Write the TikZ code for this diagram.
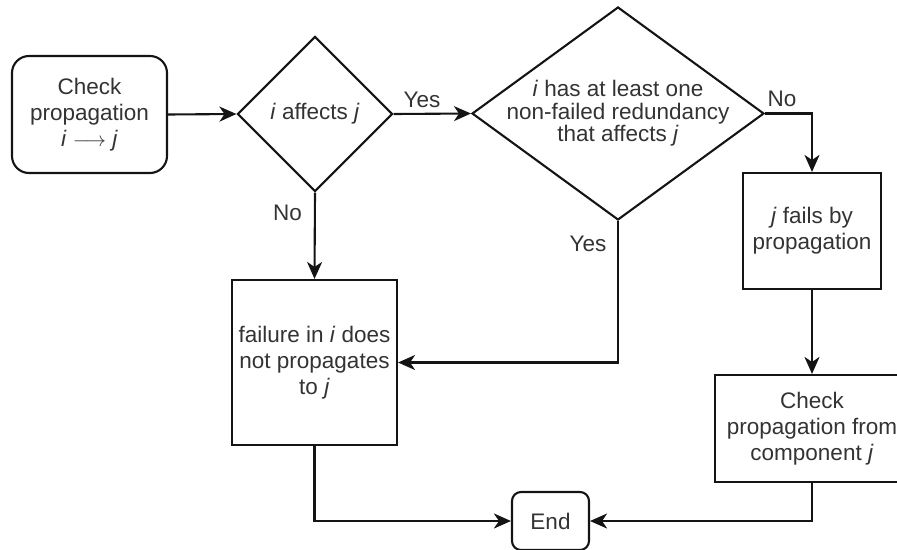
\documentclass[tikz,border=0pt]{standalone}
\usepackage{fontspec}
\setmainfont{Liberation Sans}
\usetikzlibrary{shapes.geometric,arrows.meta}
\definecolor{ink}{RGB}{20,20,20}
\definecolor{txtcol}{RGB}{51,51,51}
\tikzset{
  every node/.style={font=\fontsize{22.5}{26}\selectfont, text=txtcol},
  box/.style={draw=ink, line width=2.1pt, rectangle, inner sep=0pt, align=center},
  rbox/.style={box, rounded corners=17pt},
  endbox/.style={box, rounded corners=9pt},
  dia/.style={draw=ink, line width=2.1pt, diamond, inner sep=0pt},
  txt/.style={align=center, inner sep=0pt},
  lbl/.style={anchor=base, inner sep=0pt},
  flow/.style={draw=ink, line width=2.1pt, -{Stealth[length=17pt, width=15pt, inset=5pt]}},
}
\newcommand{\vi}{\textit{i}}
\newcommand{\vj}{\textit{j}}
\begin{document}
\begin{tikzpicture}[x=1pt, y=-1pt]
  \useasboundingbox (0,0) rectangle (897,549);
  \clip (0,0) rectangle (897,549);

  % process boxes
  \node[rbox, minimum width=155pt, minimum height=117pt] (start) at (89.5,114.5)
    {Check\\propagation\\\vi\ \(\longrightarrow\) \vj};
  \node[box, minimum width=138pt, minimum height=116pt] (fails) at (812,231)
    {\vj\ fails by\\propagation};
  \node[box, minimum width=165pt, minimum height=165pt] (noprop) at (314.5,362.5)
    {failure in \vi\ does\\not propagates\\to \vj};
  \node[box, minimum width=194pt, minimum height=107pt] (next) at (812,428.5)
    {Check\\propagation from\\component \vj};
  \node[endbox, minimum width=77pt, minimum height=58pt] (end) at (550.5,521) {End};

  % decisions
  \node[dia, minimum width=155pt, minimum height=155pt] (d1) at (315,114) {};
  \node[txt] (d1t) at (d1.center) {\vi\ affects \vj};
  \node[dia, minimum width=292pt, minimum height=213pt] (d2) at (618,113.5) {};
  \node[txt, font=\fontsize{22.5}{22.5}\selectfont] (d2t) at (d2.center)
    {\vi\ has at least one\\non-failed redundancy\\that affects \vj};

  % connectors
  \draw[flow] (start.east) -- (d1.west);
  \draw[flow] (d1.east) -- (d2.west);
  \draw[flow] (d1.south) -- (noprop.north);
  \draw[flow] (d2.east) -| (fails.north);
  \draw[flow] (d2.south) |- (noprop.east);
  \draw[flow] (fails.south) -- (next.north);
  \draw[flow] (noprop.south) |- (end.west);
  \draw[flow] (next.south) |- (end.east);

  % branch labels
  \node[lbl] (yes1) at (422,107) {Yes};
  \node[lbl] (no1) at (287.5,220) {No};
  \node[lbl] (no2) at (782,106) {No};
  \node[lbl] (yes2) at (588,251) {Yes};
\end{tikzpicture}
\end{document}
